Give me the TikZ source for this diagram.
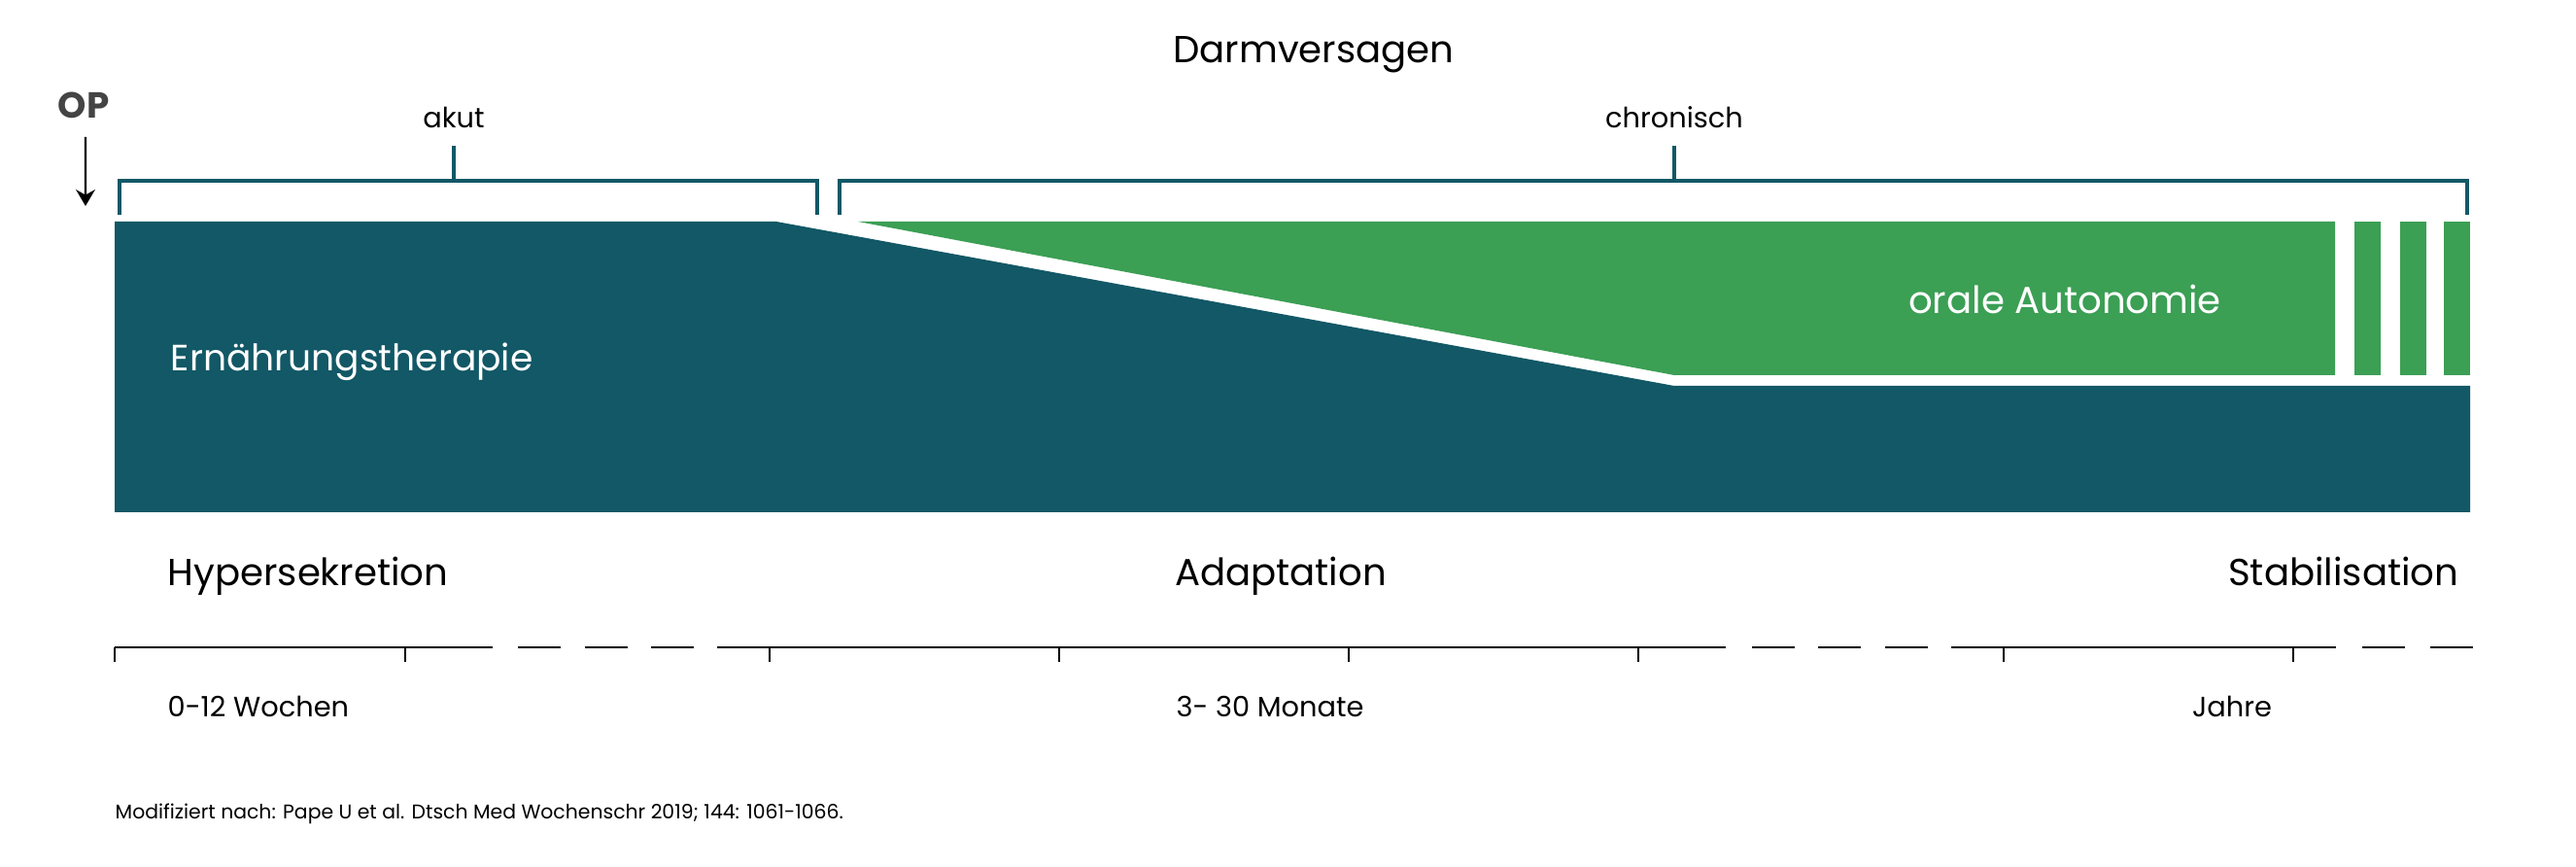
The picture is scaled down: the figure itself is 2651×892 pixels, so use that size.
\documentclass[tikz,border=0pt]{standalone}
\usepackage{fontspec}
\setmainfont{Poppins}
\usetikzlibrary{arrows.meta}
\definecolor{dvteal}{RGB}{18,88,102}
\definecolor{dvgreen}{RGB}{59,159,84}
\definecolor{dvgrey}{RGB}{68,68,68}

\begin{document}
\begin{tikzpicture}[x=0.01cm, y=-0.01cm, >={Stealth[length=4.8pt, width=5.6pt]},
  big/.style={font=\fontsize{11}{13}\selectfont, inner sep=0pt},
  small/.style={font=\fontsize{8.2}{10}\selectfont, inner sep=0pt},
  foot/.style={font=\fontsize{5.8}{7}\selectfont, inner sep=0pt},
  brace/.style={draw=dvteal, line width=1pt},
  axline/.style={line width=0.6pt},
  axdash/.style={line width=0.8pt},
  axtick/.style={line width=0.4pt}]
\useasboundingbox (0,0) rectangle (2651,892);
% bars
\fill[dvteal] (118,228) -- (799,228) -- (1723,397) -- (2542,397) -- (2542,527) -- (118,527) -- cycle;
\fill[dvgreen] (883,228) -- (2403,228) -- (2403,386) -- (1723,386) -- cycle;
\foreach \xa in {2423,2470,2515} \fill[dvgreen] (\xa,228) rectangle ++(27,158);
% brackets
\draw[brace] (123,221) -- (123,186) -- (841,186) -- (841,221);
\draw[brace] (467,186) -- (467,150);
\draw[brace] (864,221) -- (864,186) -- (2539,186) -- (2539,221);
\draw[brace] (1723,186) -- (1723,150);
% labels on top
\node[big, anchor=base] (title) at (1352,65) {Darmversagen};
\node[font=\fontsize{10.6}{12}\selectfont\bfseries, text=dvgrey, inner sep=0pt, anchor=base] (op) at (86,122) {OP};
\node[small, anchor=base] (akut) at (467,132) {akut};
\node[small, anchor=base] (chron) at (1723,132) {chronisch};
\coordinate (opend) at (88,212);
\draw[->, line width=0.6pt] ([xshift=0.02cm, yshift=-0.18cm]op.south) -- (opend);
% labels in the bars
\node[big, font=\fontsize{10.7}{13}\selectfont, text=white, anchor=base west] (ernaehr) at (175,382) {Ernährungstherapie};
\node[big, text=white, anchor=base] (oral) at (2125,323) {orale Autonomie};
% phases
\node[big, anchor=base west] (hyper) at (172,603) {Hypersekretion};
\node[big, anchor=base] (adapt) at (1318,603) {Adaptation};
\node[big, anchor=base east] (stabil) at (2531,603) {Stabilisation};
% time axis
\foreach \xa/\xb in {118/507,738/1776,2008/2404} \draw[axline] (\xa,666) -- (\xb,666);
\foreach \xa in {533,602,670,1803,1871,1940,2431,2501} \draw[axdash] (\xa,666) -- ++(44,0);
\foreach \xt in {118,417,792,1090,1388,1686,2062,2360} \draw[axtick] (\xt,666) -- (\xt,681);
\node[small, anchor=base west] (wochen) at (172,738) {0-12 Wochen};
\node[small, anchor=base] (monate) at (1307,738) {3- 30 Monate};
\node[small, anchor=base] (jahre) at (2297,738) {Jahre};
\node[foot, anchor=base west] (source) at (118,843) {Modifiziert nach: Pape U et al. Dtsch Med Wochenschr 2019; 144: 1061-1066.};
\end{tikzpicture}
\end{document}
